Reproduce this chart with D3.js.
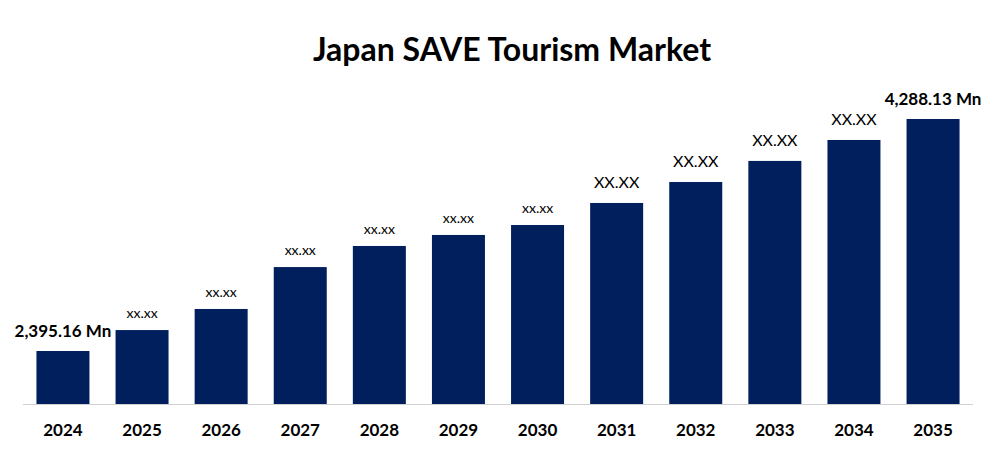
<!DOCTYPE html>
<html><head><meta charset="utf-8">
<script src="https://cdn.jsdelivr.net/npm/d3@7"></script>
<style>body{margin:0;background:#fff}text{font-family:Lato,"Open Sans",sans-serif}</style>
</head><body><svg id="c" width="996" height="456"></svg>
<script>
const years=["2024","2025","2026","2027","2028","2029","2030","2031","2032","2033","2034","2035"];
const values=[2395.16,2566,2738,3080,3252,3342,3423,3603,3774,3946,4117,4288.13];
const labels=["2,395.16 Mn","xx.xx","xx.xx","xx.xx","xx.xx","xx.xx","xx.xx","XX.XX","XX.XX","XX.XX","XX.XX","4,288.13 Mn"];
const svg=d3.select("#c");
const x=d3.scaleBand().domain(years).range([23,973]).paddingInner(0.33).paddingOuter(0.17);
const y=d3.scaleLinear().domain([1962.7,4288.13]).range([404,119]);
svg.append("text").attr("x",512).attr("y",61).attr("text-anchor","middle").attr("font-size",32).attr("font-weight","bold").text("Japan SAVE Tourism Market");
svg.selectAll("rect").data(values).join("rect").attr("x",(d,i)=>x(years[i])).attr("width",x.bandwidth()).attr("y",d=>y(d)).attr("height",d=>404-y(d)).attr("fill","#001f5c");
svg.append("line").attr("x1",23).attr("x2",973).attr("y1",404.5).attr("y2",404.5).attr("stroke","#d0d0d0");
svg.selectAll(".lb").data(values).join("text").attr("x",(d,i)=>x(years[i])+x.bandwidth()/2).attr("y",(d,i)=>y(d)-(i==0||i==11?14:i>=7?15:12)).attr("text-anchor","middle")
 .attr("font-size",(d,i)=>i==0||i==11?17:i>=7?16:14).attr("font-weight",(d,i)=>i==0||i==11?"bold":"normal").text((d,i)=>labels[i]);
const ax=svg.append("g").attr("transform","translate(0,404)").call(d3.axisBottom(x).tickSize(0).tickPadding(20));
ax.select(".domain").remove();
ax.selectAll("text").attr("font-size",17).attr("font-weight","bold").attr("fill","#000").style("font-family","Lato");
</script></body></html>
